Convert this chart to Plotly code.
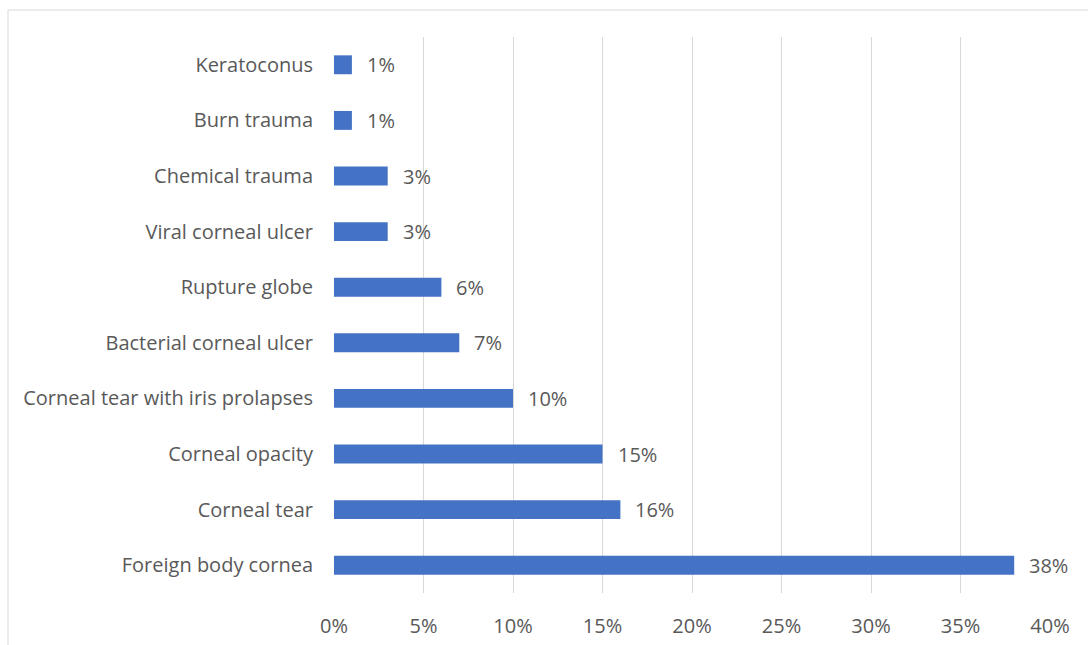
import plotly.graph_objects as go

# Share of cases by corneal condition
conditions = [
    "Foreign body cornea",
    "Corneal tear",
    "Corneal opacity",
    "Corneal tear with iris prolapses",
    "Bacterial corneal ulcer",
    "Rupture globe",
    "Viral corneal ulcer",
    "Chemical trauma",
    "Burn trauma",
    "Keratoconus",
]
percentages = [38, 16, 15, 10, 7, 6, 3, 3, 1, 1]
x_ticks = [0, 5, 10, 15, 20, 25, 30, 35, 40]
x_tick_labels = [f"{v}%" for v in x_ticks]

W, H = 1088, 645
M_L, M_R, M_T, M_B = 334, 38, 37, 52
plot_w = W - M_L - M_R
plot_h = H - M_T - M_B

FONT = "'Open Sans', sans-serif"
TEXT = "#595959"
FS = 20

fig = go.Figure(
    go.Bar(
        x=percentages,
        y=conditions,
        orientation="h",
        marker=dict(color="#4472C4", line=dict(width=0)),
        hoverinfo="skip",
    )
)

# Value labels to the right of each bar
for name, v in zip(conditions, percentages):
    fig.add_annotation(
        x=v, y=name, text=f"{v}%", showarrow=False,
        xanchor="left", xshift=13, yanchor="middle",
        font=dict(family=FONT, size=FS, color=TEXT),
    )

# Chart frame
fig.add_shape(
    type="rect", xref="paper", yref="paper",
    x0=(8 - M_L) / plot_w, x1=1.2,
    y0=-0.3, y1=1 + (M_T - 10) / plot_h,
    line=dict(color="#D9D9D9", width=1), layer="below",
)

fig.update_layout(
    width=W, height=H,
    margin=dict(l=M_L, r=M_R, t=M_T, b=M_B, autoexpand=False),
    paper_bgcolor="white", plot_bgcolor="white",
    bargap=0.66,
    showlegend=False,
    font=dict(family=FONT, size=FS, color=TEXT),
    xaxis=dict(
        range=[0, 40], tickvals=x_ticks, ticktext=x_tick_labels,
        showgrid=True, gridcolor="#D9D9D9", gridwidth=1,
        zeroline=False, showline=False, ticks="",
        ticklabelstandoff=19, automargin=False,
        tickfont=dict(family=FONT, size=FS, color=TEXT),
        fixedrange=True,
    ),
    yaxis=dict(
        categoryorder="array", categoryarray=conditions,
        showgrid=False, zeroline=False, showline=False, ticks="",
        ticklabelstandoff=20, automargin=False,
        tickfont=dict(family=FONT, size=FS, color=TEXT),
        fixedrange=True,
    ),
)

fig.write_html("out.html")
